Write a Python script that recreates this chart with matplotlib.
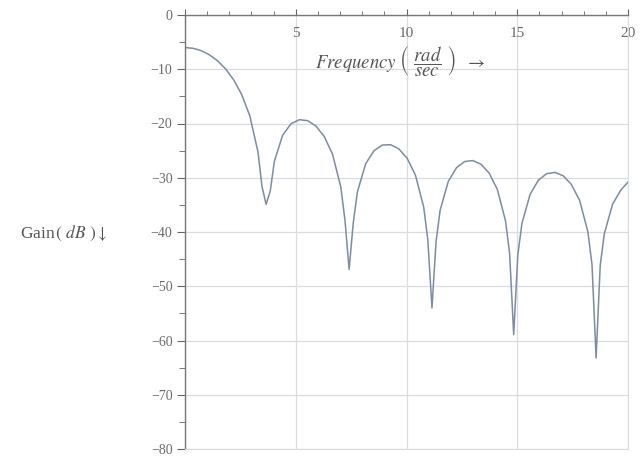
import matplotlib
matplotlib.use("Agg")
import matplotlib.pyplot as plt
from matplotlib.ticker import MultipleLocator

# gain curve (frequency in rad/sec, gain in dB)
freq = [0.0, 0.366, 0.732, 1.098, 1.464, 1.83, 2.196, 2.562, 2.928, 3.294, 3.477, 3.66,
        3.848, 4.035, 4.41, 4.785, 5.16, 5.535, 5.91, 6.285, 6.66, 7.035, 7.223, 7.41,
        7.597, 7.784, 8.158, 8.532, 8.906, 9.28, 9.654, 10.028, 10.402, 10.776, 10.963, 11.15,
        11.335, 11.519, 11.888, 12.257, 12.626, 12.995, 13.364, 13.733, 14.102, 14.471, 14.656, 14.84,
        15.026, 15.212, 15.584, 15.956, 16.328, 16.7, 17.072, 17.444, 17.816, 18.188, 18.374, 18.56,
        18.746, 18.932, 19.304, 19.676, 20.0]
gain = [-6.0, -6.14, -6.58, -7.33, -8.42, -9.92, -11.94, -14.69, -18.62, -25.23, -31.61, -34.9,
        -32.48, -26.97, -22.14, -20.06, -19.30, -19.47, -20.46, -22.39, -25.66, -31.72, -37.85, -46.9,
        -38.29, -32.59, -27.41, -25.02, -23.98, -23.90, -24.68, -26.41, -29.50, -35.39, -41.45, -54.0,
        -41.74, -35.97, -30.66, -28.15, -27.01, -26.83, -27.51, -29.15, -32.15, -37.96, -43.99, -58.9,
        -44.20, -38.40, -33.02, -30.45, -29.25, -29.01, -29.63, -31.23, -34.18, -39.95, -45.95, -63.2,
        -46.12, -40.29, -34.88, -32.27, -30.8]

x_ticks = [0, 5, 10, 15, 20]
x_labels = ["", "5", "10", "15", "20"]
y_ticks = [0, -10, -20, -30, -40, -50, -60, -70, -80]

plt.rcParams["font.family"] = ["Liberation Serif", "DejaVu Serif"]
plt.rcParams["mathtext.fontset"] = "stix"

fig = plt.figure(figsize=(6.4, 4.57), dpi=100)
ax = fig.add_axes([185 / 640, 1 - 449 / 457, 443 / 640, 434 / 457])

ax.plot(freq, gain, color="#7d8ba3", lw=1.1)

ax.set_xlim(0, 20)
ax.set_ylim(-80, 0)

ax.set_xticks(x_ticks)
ax.set_xticklabels(x_labels)
ax.set_yticks(y_ticks)
ax.xaxis.set_minor_locator(MultipleLocator(1))
ax.yaxis.set_minor_locator(MultipleLocator(5))

ax.xaxis.set_ticks_position("top")
ax.tick_params(axis="x", which="major", direction="out", length=4, width=0.8,
               color="#666666", labelcolor="#6a6a6a", labelsize=11, pad=-22)
ax.tick_params(axis="x", which="minor", direction="out", length=3, width=0.7, color="#777777")
ax.tick_params(axis="y", which="major", direction="out", length=6, width=0.8,
               color="#666666", labelcolor="#6a6a6a", labelsize=10, pad=3)
ax.tick_params(axis="y", which="minor", direction="out", length=4, width=0.7, color="#777777")

ax.grid(True, which="major", color="#d9dde2", lw=0.9)
ax.set_axisbelow(True)
for side in ["right", "bottom"]:
    ax.spines[side].set_color("#d9dde2")
for side in ["left", "top"]:
    ax.spines[side].set_color("#777777")
    ax.spines[side].set_linewidth(1.0)

ax.text(9.7, -8.3, r"$\mathit{Frequency}\ \left(\ \dfrac{rad}{sec}\ \right)\ \ \rightarrow$",
        ha="center", va="center", fontsize=13.5, color="#555555")
fig.text(64 / 640, 1 - 233 / 457, r"Gain$\,($ $\mathit{dB}$ $)\downarrow$",
         ha="center", va="center", fontsize=12.5, color="#555555")

fig.savefig("out.png", dpi=100)
